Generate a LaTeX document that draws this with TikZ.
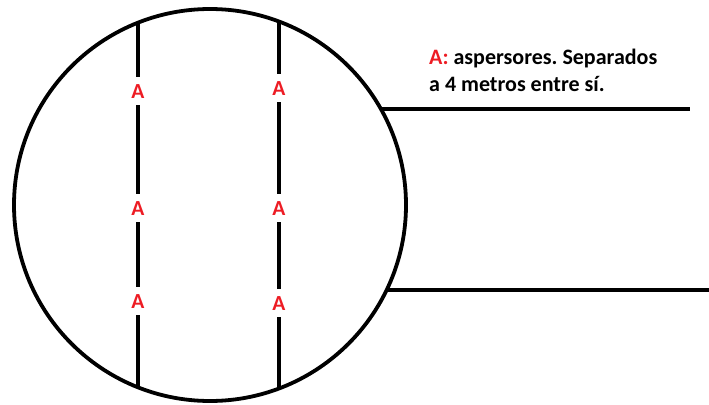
\documentclass[tikz,border=0pt]{standalone}
\usepackage{fontspec}
\setmainfont{Carlito}
\definecolor{pred}{RGB}{237,28,36}
\begin{document}
\begin{tikzpicture}[x=1pt,y=-1pt,
  lbl/.style={text=pred,font=\fontsize{21.5}{21.5}\selectfont\bfseries,inner sep=0pt,text height=14pt,text depth=0pt,outer sep=7pt},
  ln/.style={line width=4pt},
  ring/.style={line width=3.8pt}]
\useasboundingbox (0,0) rectangle (709,404);
\coordinate (O) at (210,205);
\draw[ring] (O) circle [radius=196pt];
% intersections with circle
\coordinate (t1) at (138,22.7);
\coordinate (b1) at (138,387.3);
\coordinate (t2) at (279,21.5);
\coordinate (b2) at (279,388.5);
\coordinate (h1) at (381,109);
\coordinate (h1e) at (690,109);
\coordinate (h2) at (386.6,290);
\coordinate (h2e) at (709,290);
% labels
\node[lbl] (a11) at (138,91) {A};
\node[lbl] (a12) at (138,208) {A};
\node[lbl] (a13) at (138,301) {A};
\node[lbl] (a21) at (279,88) {A};
\node[lbl] (a22) at (279,208) {A};
\node[lbl] (a23) at (279,303) {A};
\draw[ln] (t1) -- (a11) -- (a12) -- (a13) -- (b1);
\draw[ln] (t2) -- (a21) -- (a22) -- (a23) -- (b2);
\draw[ln] (h1) -- (h1e);
\draw[ln] (h2) -- (h2e);
\node[anchor=base west,inner sep=0pt,align=left,font=\fontsize{22}{28}\selectfont\bfseries\frenchspacing] (txt) at (429,92)
  {\textcolor{pred}{A:} aspersores. Separados\\a 4 metros entre sí.};
\end{tikzpicture}
\end{document}
